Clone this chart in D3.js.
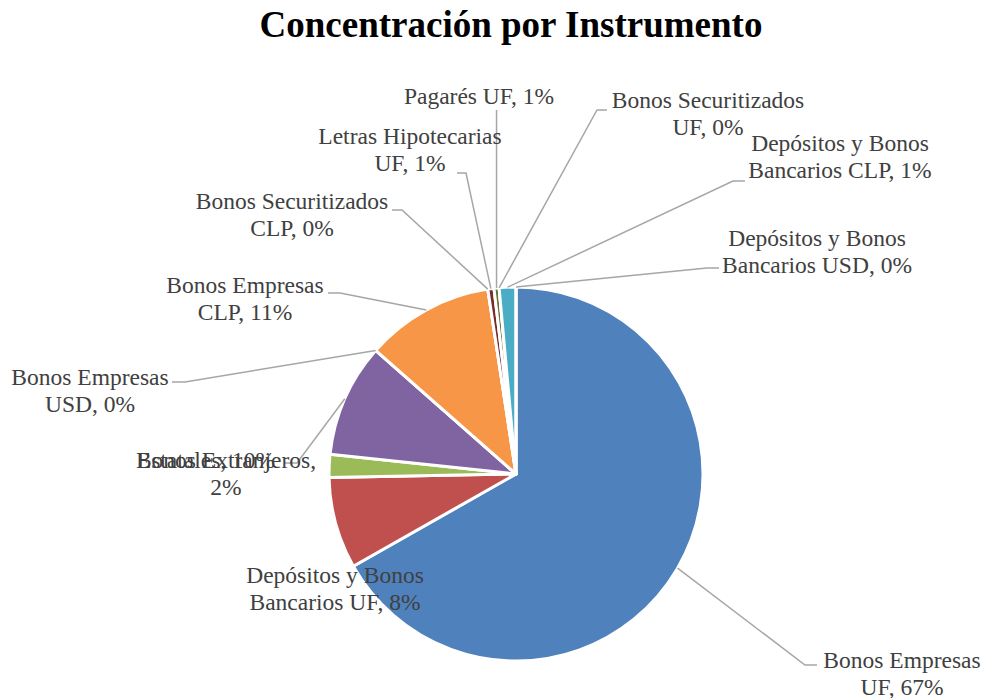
<!DOCTYPE html>
<html><head><meta charset="utf-8">
<script src="https://cdn.jsdelivr.net/npm/d3@7"></script>
<style>body{margin:0;background:#fff}svg{display:block}</style>
</head><body>
<script>
const categories = ["Bonos Empresas UF","Depósitos y Bonos Bancarios UF","Bonos Extranjeros","Estatales","Bonos Empresas USD","Bonos Empresas CLP","Bonos Securitizados CLP","Letras Hipotecarias UF","Pagarés UF","Bonos Securitizados UF","Depósitos y Bonos Bancarios CLP","Depósitos y Bonos Bancarios USD"];
const values = [66.8, 7.9, 2.0, 9.8, 0, 11.1, 0, 0.53, 0.44, 0, 1.44, 0];
const pctLabels = ["67%","8%","2%","10%","0%","11%","0%","1%","1%","0%","1%","0%"];
const colors = ["#4F81BD","#C0504D","#9BBB59","#8064A2","#4BACC6","#F79646","#2C4D75","#772C2A","#5F7530","#4D3B62","#4BACC6","#B65708"];
const labelLines = [["Bonos Empresas","UF, 67%"],["Depósitos y Bonos","Bancarios UF, 8%"],["Bonos Extranjeros,","2%"],["Estatales, 10%"],["Bonos Empresas","USD, 0%"],["Bonos Empresas","CLP, 11%"],["Bonos Securitizados","CLP, 0%"],["Letras Hipotecarias","UF, 1%"],["Pagarés UF, 1%"],["Bonos Securitizados","UF, 0%"],["Depósitos y Bonos","Bancarios CLP, 1%"],["Depósitos y Bonos","Bancarios USD, 0%"]];
// layout: label center x, first baseline y
const labelPos = [[902,668],[335,583],[226,468],[206,468],[90,385],[245,293],[292,209],[410,144],[479,104],[708,108],[840,151],[817,246]];
// leader: bend point and horizontal end x (null = no leader)
const leaders = [[805,665,817],null,null,[297,463,285],[185,382,172],[340,293,328],[402,210,392],[466,173,457],[null,110,null],[597,110,607],[733,181,745],[707,268,719]];

const W = 986, H = 698, cx = 516, cy = 474, R = 187;
const svg = d3.select("body").append("svg").attr("width", W).attr("height", H);

svg.append("text").attr("x", 511).attr("y", 37).attr("text-anchor","middle")
  .attr("font-family","'Liberation Serif','Times New Roman',serif").attr("font-weight","bold")
  .attr("font-size", 37).attr("fill","#000").text("Concentración por Instrumento");

const pie = d3.pie().sort(null).value(d => d)(values);
const arc = d3.arc().innerRadius(0).outerRadius(R);
const g = svg.append("g").attr("transform", `translate(${cx},${cy})`);
g.selectAll("path.slice").data(pie).join("path").attr("class","slice")
  .attr("d", arc).attr("fill", (d,i) => colors[i])
  .attr("stroke","#fff").attr("stroke-width", 3).attr("stroke-linejoin","round");

// leaders
pie.forEach((d,i) => {
  const L = leaders[i]; if (!L) return;
  const a = (d.startAngle + d.endAngle)/2;
  let sx = cx + R*Math.sin(a), sy = cy - R*Math.cos(a);
  let pts;
  if (L[0] === null) pts = [[sx,sy],[sx,L[1]]];
  else pts = [[sx,sy],[L[0],L[1]],[L[2],L[1]]];
  svg.append("path").attr("d", d3.line()(pts)).attr("fill","none")
    .attr("stroke","#A6A6A6").attr("stroke-width",1.5);
});

// labels
labelLines.forEach((lines,i) => {
  const t = svg.append("text").attr("text-anchor","middle")
    .attr("font-family","'Liberation Serif','Times New Roman',serif")
    .attr("font-size", 23.5).attr("fill","#404040");
  lines.forEach((s,j) => t.append("tspan").attr("x", labelPos[i][0]).attr("y", labelPos[i][1] + j*27).text(s));
});
</script>
</body></html>
